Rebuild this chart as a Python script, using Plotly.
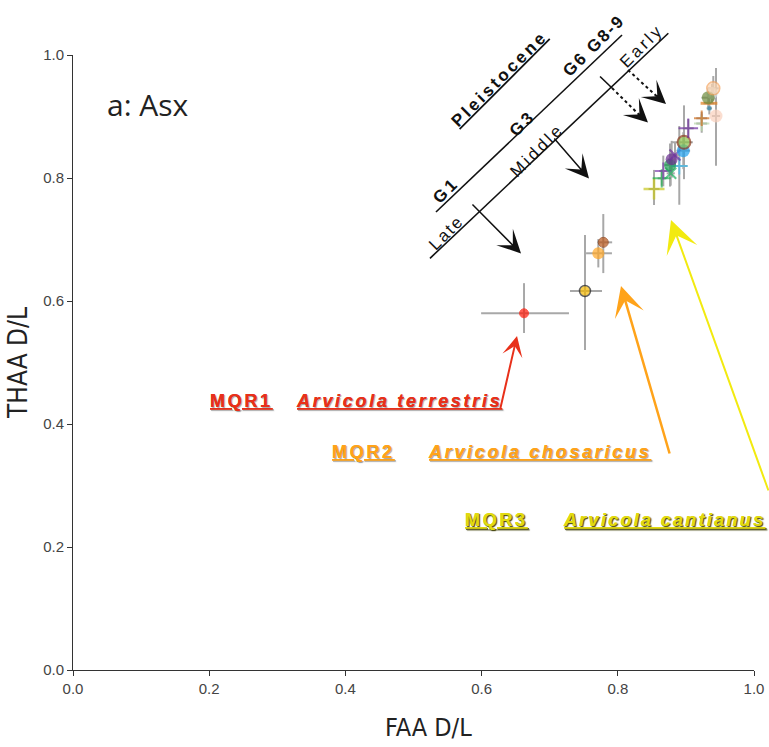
import plotly.graph_objects as go

# Mean D/L values and asymmetric uncertainty for each sample (FAA on x, THAA on y)
faa = [0.6623, 0.7518, 0.7714, 0.7787,
       0.8532, 0.8645, 0.8668, 0.8777, 0.8903, 0.8767, 0.8791, 0.8840,
       0.8962, 0.8972, 0.9035, 0.9232, 0.9232, 0.9339, 0.9344,
       0.9383, 0.9329, 0.9442, 0.9402]
thaa = [0.5800, 0.6163, 0.6776, 0.6954,
        0.7821, 0.7995, 0.8114, 0.8076, 0.8195, 0.8211, 0.8304, 0.8374,
        0.8444, 0.8581, 0.8808, 0.8886, 0.8971, 0.9215, 0.9133,
        0.9382, 0.9306, 0.9008, 0.9458]
faa_err_minus = [0.063, 0.022, 0.018, 0.009,
                 0.008, 0.006, 0.006, 0.006, 0.012, 0.008, 0.006, 0.006,
                 0.010, 0.018, 0.008, 0.008, 0.008, 0.008, 0.004,
                 0.006, 0.010, 0.006, 0.008]
faa_err_plus = [0.066, 0.025, 0.020, 0.013,
                0.008, 0.006, 0.006, 0.006, 0.012, 0.008, 0.006, 0.006,
                0.010, 0.013, 0.008, 0.008, 0.008, 0.008, 0.004,
                0.006, 0.010, 0.006, 0.008]
thaa_err_minus = [0.032, 0.096, 0.023, 0.050,
                  0.026, 0.012, 0.025, 0.020, 0.063, 0.035, 0.030, 0.020,
                  0.030, 0.060, 0.015, 0.015, 0.010, 0.010, 0.010,
                  0.015, 0.015, 0.081, 0.020]
thaa_err_plus = [0.049, 0.091, 0.023, 0.046,
                 0.031, 0.012, 0.025, 0.020, 0.065, 0.035, 0.030, 0.020,
                 0.030, 0.060, 0.015, 0.015, 0.010, 0.010, 0.010,
                 0.015, 0.015, 0.078, 0.020]

# Marker styling per sample
symbols = ["circle", "circle", "circle", "circle",
           "cross-thin", "cross-thin", "cross-thin", "x-thin", "cross-thin", "circle", "circle", "x-thin",
           "circle", "circle", "cross-thin", "cross-thin", "cross-thin", "line-ew", "square",
           "circle", "circle", "circle", "circle"]
fills = ["#FF1A0A", "#F5B800", "#FFA726", "#B8561A",
         "#C8C820", "#22B050", "#8040B0", "#20B060", "#40C0F0", "#1A9A50", "#6A2C91", "#7030A0",
         "#1EA0F0", "#8BC34A", "#7030A0", "#B8D8A8", "#D07020", "#E08020", "#2E86AB",
         "#DCE2E6", "#6E8B3D", "#FAD0BC", "#FDD5B0"]
edges = ["#FF1A0A", "#222222", "#FFA726", "#8B3A10",
         "#C8C820", "#22B050", "#8040B0", "#20B060", "#40C0F0", "#1A9A50", "#6A2C91", "#7030A0",
         "#1EA0F0", "#8B3A1A", "#7030A0", "#B8D8A8", "#D07020", "#E08020", "#2E86AB",
         "#DCE2E6", "#6E8B3D", "#FAD0BC", "#F4A460"]
sizes = [9, 11, 12, 10,
         15, 13, 12, 11, 12, 12, 12, 11,
         13, 13, 14, 11, 11, 12, 4,
         12, 13, 13, 13]
edge_w = [1, 1.5, 0, 1,
          2.5, 2, 2, 2, 2, 0, 0, 2,
          0, 2, 2, 2, 2, 3, 0,
          0, 0, 0, 1.5]

fig = go.Figure()
fig.add_trace(go.Scatter(
    x=faa, y=thaa, mode="markers", showlegend=False, cliponaxis=False,
    marker=dict(symbol=symbols, color=fills, size=sizes,
                line=dict(color=edges, width=edge_w)),
    error_x=dict(type="data", symmetric=False, array=faa_err_plus,
                 arrayminus=faa_err_minus, color="#A8A8A8", thickness=2, width=0),
    error_y=dict(type="data", symmetric=False, array=thaa_err_plus,
                 arrayminus=thaa_err_minus, color="#A8A8A8", thickness=2, width=0),
))

ARIAL = "Arial, Liberation Sans, sans-serif"
NARROW = "Liberation Sans Narrow, Arial Narrow, DejaVu Sans Condensed, sans-serif"

# Stratigraphic guide lines (paper coords coincide with data coords: ranges are 0..1)
guide_lines = [
    ((0.5242, 0.6694), (0.8742, 1.0353)),   # Late / Middle / Early
    ((0.5330, 0.7447), (0.8062, 1.0325)),   # G1 ... G8-9
    ((0.7739, 0.9650), (0.7915, 0.9463)),   # Middle/Early boundary tick
]
for (x0, y0), (x1, y1) in guide_lines:
    fig.add_shape(type="line", xref="paper", yref="paper", x0=x0, y0=y0, x1=x1, y1=y1,
                  line=dict(color="#111111", width=1.6))

dotted = [((0.7915, 0.9463), (0.8330, 0.9010)), ((0.8150, 0.9756), (0.8590, 0.9310))]
for (x0, y0), (x1, y1) in dotted:
    fig.add_shape(type="line", xref="paper", yref="paper", x0=x0, y0=y0, x1=x1, y1=y1,
                  line=dict(color="#111111", width=2, dash="dot"))

# Black arrows: (tail, head)
black_arrows = [
    ((0.5844, 0.7593), (0.6579, 0.6772)),
    ((0.7048, 0.8667), (0.7577, 0.7992)),
    ((0.8300, 0.9050), (0.8443, 0.8902)),
    ((0.8560, 0.9350), (0.8708, 0.9203)),
]
for (tx, ty), (hx, hy) in black_arrows:
    fig.add_annotation(x=hx, y=hy, ax=tx, ay=ty, xref="x", yref="y", axref="x", ayref="y",
                       text="", showarrow=True, arrowhead=3, arrowsize=2.6,
                       arrowwidth=1.5, arrowcolor="#111111")

# Colored arrows pointing to each species group
colored_arrows = [
    ((0.6270, 0.4228), (0.6520, 0.5431), "#E8301A", 2.0, 1.7),
    ((0.8767, 0.3496), (0.8047, 0.6244), "#FFA31A", 2.5, 2.0),
    ((1.0220, 0.2894), (0.8781, 0.7317), "#F2EA10", 2.0, 2.7),
]
for (tx, ty), (hx, hy), col, w, s in colored_arrows:
    fig.add_annotation(x=hx, y=hy, ax=tx, ay=ty, xref="x", yref="y", axref="x", ayref="y",
                       text="", showarrow=True, arrowhead=3, arrowsize=s,
                       arrowwidth=w, arrowcolor=col)


def spaced(txt, px):
    return f'<span style="letter-spacing:{px}px">{txt}</span>'


# Rotated period / group labels
rot_labels = [
    ("Pleistocene", 0.6270, 0.9610, "bold", "under", 3),
    ("G1", 0.5480, 0.7790, "bold", "none", 3),
    ("G3", 0.6600, 0.8890, "bold", "none", 3),
    ("G6 G8-9", 0.7650, 1.0160, "bold", "none", 2),
    ("Late", 0.5490, 0.7110, "normal", "none", 2),
    ("Middle", 0.6810, 0.8450, "normal", "none", 3),
    ("Early", 0.8360, 1.0150, "normal", "none", 3),
]
for txt, x, y, wt, lp, ls in rot_labels:
    fig.add_annotation(x=x, y=y, xref="paper", yref="paper", xanchor="center",
                       yanchor="middle", text=spaced(txt, ls), showarrow=False,
                       textangle=-45,
                       font=dict(family=ARIAL, size=17, color="#111111", weight=wt,
                                 lineposition=lp))

# Species group labels
soft = "1px 1px 1px rgba(0,0,0,0.2)"
dark = "1px 1px 1px rgba(60,60,0,0.7)"
species = [
    ("MQR1", 0.2467, 0.4374, "normal", "#E8301A", soft, 2.7),
    ("Arvicola terrestris", 0.4780, 0.4374, "italic", "#E8301A", soft, 2.7),
    ("MQR2", 0.4273, 0.3545, "normal", "#FFA31A", soft, 2.7),
    ("Arvicola chosaricus", 0.6843, 0.3545, "italic", "#FFA31A", soft, 2.7),
    ("MQR3", 0.6219, 0.2439, "normal", "#E2DA10", dark, 2.7),
    ("Arvicola cantianus", 0.8680, 0.2439, "italic", "#E2DA10", dark, 2.3),
]
for txt, x, y, st, col, sh, ls in species:
    fig.add_annotation(x=x, y=y, xref="paper", yref="paper", xanchor="center",
                       yanchor="middle", text=spaced(txt, ls), showarrow=False,
                       font=dict(family=ARIAL, size=18, color=col, weight="bold", style=st,
                                 lineposition="under", shadow=sh))

# Panel label
fig.add_annotation(x=0.047, y=0.9187, xref="paper", yref="paper", text="a: Asx",
                   showarrow=False, xanchor="left", yanchor="middle",
                   font=dict(family="Open Sans, sans-serif", size=30, color="#222222"))

# x-axis title, set slightly right of the plot centre
fig.add_annotation(x=0.5213, y=-0.0927, xref="paper", yref="paper", text="FAA D/L",
                   showarrow=False, xanchor="center", yanchor="middle",
                   font=dict(family=NARROW, size=25, color="#222222"))

axis_common = dict(range=[0, 1], dtick=0.2, tick0=0, tickformat=".1f", showgrid=False,
                   zeroline=False, showline=True, linecolor="#333333", linewidth=1,
                   ticks="outside", ticklen=5, tickcolor="#333333", automargin=False,
                   tickfont=dict(family=ARIAL, size=15, color="#444444"))

fig.update_layout(
    width=769, height=747, margin=dict(l=73, r=15, t=55, b=77, pad=0),
    paper_bgcolor="white", plot_bgcolor="white",
    xaxis=dict(axis_common),
    yaxis=dict(axis_common, title=dict(text="THAA D/L", standoff=8,
                                       font=dict(family=NARROW, size=26, color="#222222"))),
)

fig.write_html("out.html")
